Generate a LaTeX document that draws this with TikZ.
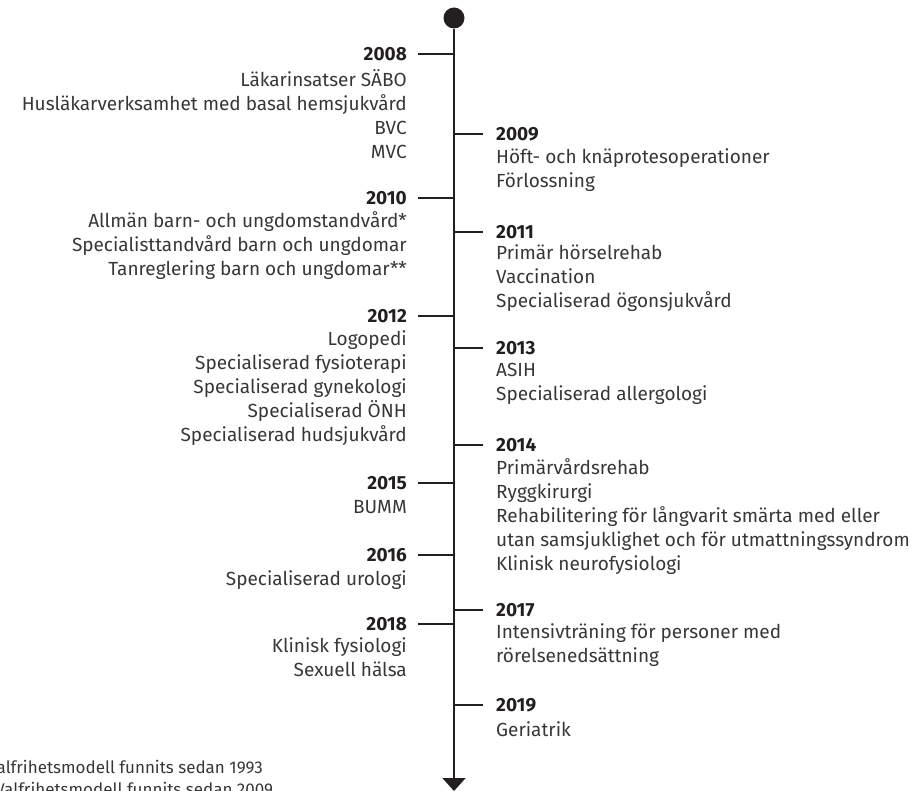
\documentclass[tikz,border=0pt]{standalone}
\usepackage{fontspec}
\setmainfont{Fira Sans}
\usetikzlibrary{arrows.meta,positioning}
\definecolor{inkgray}{RGB}{55,55,55}
\definecolor{axisblack}{RGB}{35,31,32}

\begin{document}
\begin{tikzpicture}[x=1pt, y=-1pt,
  every node/.style={font=\fontsize{19}{24}\selectfont, text=inkgray, inner sep=0pt},
  yearlbl/.style={font=\fontsize{19}{24}\selectfont\bfseries, text=axisblack},
  leftitems/.style={align=right, execute at begin node=\strut},
  rightitems/.style={align=left, execute at begin node=\strut},
  tick/.style={axisblack, line width=1.6pt},
  footnote/.style={font=\fontsize{17}{22}\selectfont},
]
\useasboundingbox (0,0) rectangle (921,791);

%% Spine: dot on top, arrow at the bottom
\node[circle, fill=axisblack, minimum size=21pt] (start) at (454,18) {};
\coordinate (finish) at (454,791);
\draw[axisblack, line width=1.8pt, -{Triangle[width=23pt,length=13pt]}] (start) -- (finish);

%% ---- Left side ----

% 2008
\node[yearlbl, anchor=east] (y2008) at (407,54) {2008};
\draw[tick] ([xshift=11pt]y2008.east) -- (y2008.east -| start);
\node[leftitems, below=8pt of y2008.south east, anchor=north east] (i2008)
  {Läkarinsatser SÄBO\\Husläkarverksamhet med basal hemsjukvård\\BVC\\MVC};

% 2010
\node[yearlbl, anchor=east] (y2010) at (407,198) {2010};
\draw[tick] ([xshift=11pt]y2010.east) -- (y2010.east -| start);
\node[leftitems, below=7pt of y2010.south east, anchor=north east] (i2010)
  {Allmän barn- och ungdomstandvård*\\Specialisttandvård barn och ungdomar\\Tanreglering barn och ungdomar**};

% 2012
\node[yearlbl, anchor=east] (y2012) at (407,316) {2012};
\draw[tick] ([xshift=11pt]y2012.east) -- (y2012.east -| start);
\node[leftitems, below=8pt of y2012.south east, anchor=north east] (i2012)
  {Logopedi\\Specialiserad fysioterapi\\Specialiserad gynekologi\\Specialiserad ÖNH\\Specialiserad hudsjukvård};

% 2015
\node[yearlbl, anchor=east] (y2015) at (407,483) {2015};
\draw[tick] ([xshift=11pt]y2015.east) -- (y2015.east -| start);
\node[leftitems, below=7pt of y2015.south east, anchor=north east] (i2015) {BUMM};

% 2016
\node[yearlbl, anchor=east] (y2016) at (407,555) {2016};
\draw[tick] ([xshift=11pt]y2016.east) -- (y2016.east -| start);
\node[leftitems, below=7pt of y2016.south east, anchor=north east] (i2016) {Specialiserad urologi};

% 2018
\node[yearlbl, anchor=east] (y2018) at (407,624) {2018};
\draw[tick] ([xshift=11pt]y2018.east) -- (y2018.east -| start);
\node[leftitems, below=7pt of y2018.south east, anchor=north east] (i2018)
  {Klinisk fysiologi\\Sexuell hälsa};

%% ---- Right side ----

% 2009
\node[yearlbl, anchor=west] (y2009) at (496,134) {2009};
\draw[tick] ([xshift=-13pt]y2009.west) -- (y2009.west -| start);
\node[rightitems, below=7pt of y2009.south west, anchor=north west] (i2009)
  {Höft- och knäprotesoperationer\\Förlossning};

% 2011
\node[yearlbl, anchor=west] (y2011) at (496,232) {2011};
\draw[tick] ([xshift=-13pt]y2011.west) -- (y2011.west -| start);
\node[rightitems, below=6pt of y2011.south west, anchor=north west] (i2011)
  {Primär hörselrehab\\Vaccination\\Specialiserad ögonsjukvård};

% 2013
\node[yearlbl, anchor=west] (y2013) at (496,348) {2013};
\draw[tick] ([xshift=-13pt]y2013.west) -- (y2013.west -| start);
\node[rightitems, below=8pt of y2013.south west, anchor=north west] (i2013)
  {ASIH\\Specialiserad allergologi};

% 2014
\node[yearlbl, anchor=west] (y2014) at (496,445) {2014};
\draw[tick] ([xshift=-13pt]y2014.west) -- (y2014.west -| start);
\node[rightitems, below=6pt of y2014.south west, anchor=north west] (i2014)
  {Primärvårdsrehab\\Ryggkirurgi\\Rehabilitering för långvarit smärta med eller\\utan samsjuklighet och för utmattningssyndrom\\Klinisk neurofysiologi};

% 2017
\node[yearlbl, anchor=west] (y2017) at (496,610) {2017};
\draw[tick] ([xshift=-13pt]y2017.west) -- (y2017.west -| start);
\node[rightitems, below=7pt of y2017.south west, anchor=north west] (i2017)
  {Intensivträning för personer med\\rörelsenedsättning};

% 2019
\node[yearlbl, anchor=west] (y2019) at (496,705) {2019};
\draw[tick] ([xshift=-13pt]y2019.west) -- (y2019.west -| start);
\node[rightitems, below=7pt of y2019.south west, anchor=north west] (i2019) {Geriatrik};

%% Footnotes (cut by the left edge, as in the source)
\node[footnote, anchor=base east] (fn1) at (263,773) {*Valfrihetsmodell funnits sedan 1993};
\node[footnote, anchor=base west] (fn2) at ([yshift=-22pt]fn1.base west) {**Valfrihetsmodell funnits sedan 2009};

\end{tikzpicture}
\end{document}
